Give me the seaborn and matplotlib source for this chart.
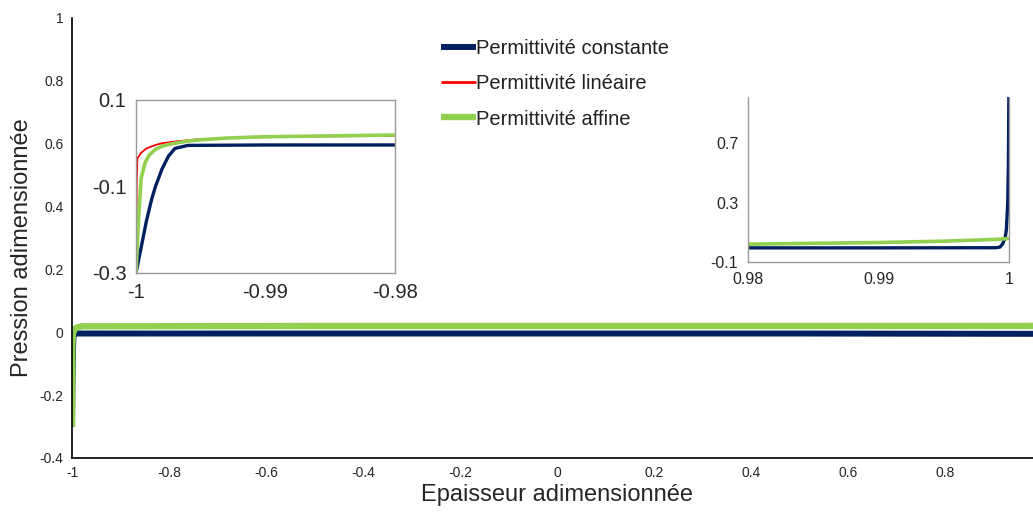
import numpy as np
import pandas as pd
import matplotlib
matplotlib.use("Agg")
import matplotlib.pyplot as plt
import seaborn as sns
from matplotlib.ticker import FuncFormatter

# Dimensionless thickness / pressure
x_const = [-1.0, -0.9996, -0.9992, -0.9988, -0.9985, -0.998, -0.9975, -0.997, -0.996,
           -0.99, -0.98, -0.5, 0.0, 0.5, 0.98, 0.99, 0.999, 0.9993, 0.9995, 0.9997,
           0.9998, 0.9999, 0.99995, 1.0]
p_const = [-0.30, -0.24, -0.18, -0.13, -0.10, -0.06, -0.03, -0.012, -0.005,
           -0.004, -0.004, -0.004, -0.004, -0.004, -0.005, -0.005, -0.004, 0.0, 0.02, 0.06,
           0.12, 0.30, 0.55, 1.20]

x_lin = [-1.0, -0.99995, -0.9999, -0.9996, -0.9992, -0.9985, -0.998, -0.997, -0.9953,
         -0.993, -0.99, -0.985, -0.98, -0.5, 0.0, 0.5, 0.98, 0.99, 0.995, 0.999, 1.0]
p_lin = [-0.30, -0.10, -0.035, -0.022, -0.012, -0.004, 0.000, 0.004, 0.009,
         0.012, 0.014, 0.016, 0.017, 0.019, 0.019, 0.019, 0.019, 0.030, 0.039, 0.051, 0.057]

x_aff = [-1.0, -0.9998, -0.9996, -0.9993, -0.999, -0.9985, -0.998, -0.9975, -0.997,
         -0.996, -0.995, -0.993, -0.99, -0.985, -0.98, -0.5, 0.0, 0.5, 0.98, 0.99,
         0.995, 0.999, 1.0]
p_aff = [-0.30, -0.17, -0.08, -0.045, -0.028, -0.014, -0.007, -0.003, 0.000,
         0.005, 0.008, 0.012, 0.015, 0.017, 0.019, 0.020, 0.020, 0.020, 0.020, 0.031,
         0.040, 0.052, 0.058]

labels = ["Permittivité constante", "Permittivité linéaire", "Permittivité affine"]
colors = ["#002060", "#FF0000", "#92D050"]

# the "1" tick falls outside the picture in the reference
main_xticks = [-1, -0.8, -0.6, -0.4, -0.2, 0, 0.2, 0.4, 0.6, 0.8]
main_yticks = [-0.4, -0.2, 0, 0.2, 0.4, 0.6, 0.8, 1]

sns.set_style("white")
plt.rcParams["font.family"] = ["Liberation Sans", "DejaVu Sans"]
plt.rcParams["axes.unicode_minus"] = False

series = [(x_const, p_const), (x_lin, p_lin), (x_aff, p_aff)]
fmt = FuncFormatter(lambda v, pos: f"{v:g}")

fig = plt.figure(figsize=(10.33, 5.12), dpi=100)

# Main axes (extends slightly past the right edge, as in the reference)
ax = fig.add_axes([0.0697, 0.1055, 0.9391, 0.8594])
main_lw = [4.3, 2.0, 4.6]
for (xs, ys), lab, c, lw in zip(series, labels, colors, main_lw):
    sns.lineplot(x=xs, y=ys, ax=ax, color=c, linewidth=lw, label=lab,
                 estimator=None, solid_capstyle="butt")
ax.set_xlim(-1, 1)
ax.set_ylim(-0.4, 1)
ax.set_xticks(main_xticks)
ax.set_yticks(main_yticks)
ax.xaxis.set_major_formatter(fmt)
ax.yaxis.set_major_formatter(fmt)
for s in ["top", "right"]:
    ax.spines[s].set_visible(False)
for s in ["left", "bottom"]:
    ax.spines[s].set_color("black")
    ax.spines[s].set_linewidth(1.2)
ax.tick_params(axis="x", direction="inout", length=7, width=1.2, labelsize=10, pad=2)
ax.tick_params(axis="y", direction="out", length=4, width=1.2, labelsize=10, pad=2)
ax.set_xlabel("Epaisseur adimensionnée", fontsize=17, labelpad=3)
ax.set_ylabel("Pression adimensionnée", fontsize=17)
ax.yaxis.set_label_coords(-0.040, 0.477)

handles, _ = ax.get_legend_handles_labels()
leg = ax.legend(handles, labels, loc="upper left", bbox_to_anchor=(0.419, 0.939),
                bbox_transform=fig.transFigure, frameon=False, fontsize=14.5,
                handlelength=1.75, handletextpad=0.0, labelspacing=0.8,
                borderaxespad=0)
for t in leg.get_texts():
    t.set_color("#222222")

# Left inset: zoom near x = -1
ax1 = fig.add_axes([0.1317, 0.4668, 0.2507, 0.3379])
for (xs, ys), c, lw in zip(series, colors, [2.4, 1.3, 2.6]):
    sns.lineplot(x=xs, y=ys, ax=ax1, color=c, linewidth=lw, estimator=None)
ax1.set_xlim(-1, -0.98)
ax1.set_ylim(-0.3, 0.1)
ax1.set_xticks([-1, -0.99, -0.98])
ax1.set_yticks([-0.3, -0.1, 0.1])
ax1.xaxis.set_major_formatter(fmt)
ax1.yaxis.set_major_formatter(fmt)
for s in ax1.spines.values():
    s.set_color("#999999")
    s.set_linewidth(1.0)
ax1.tick_params(direction="inout", length=8, width=1.0, color="#777777",
                labelsize=14.5, pad=3)

# Right inset: zoom near x = 1
ax2 = fig.add_axes([0.7241, 0.4883, 0.2527, 0.3223])
for (xs, ys), c, lw in zip(series, colors, [2.4, 1.3, 2.6]):
    sns.lineplot(x=xs, y=ys, ax=ax2, color=c, linewidth=lw, estimator=None)
ax2.set_xlim(0.98, 1)
ax2.set_ylim(-0.1, 1.01)
ax2.set_xticks([0.98, 0.99, 1])
ax2.set_yticks([-0.1, 0.3, 0.7])
ax2.xaxis.set_major_formatter(fmt)
ax2.yaxis.set_major_formatter(fmt)
ax2.spines["top"].set_visible(False)
for s in ["left", "bottom", "right"]:
    ax2.spines[s].set_color("#999999")
    ax2.spines[s].set_linewidth(1.0)
ax2.tick_params(direction="inout", length=8, width=1.0, color="#777777",
                labelsize=11.5, pad=3)

fig.savefig("out.png", dpi=100, facecolor="white")
